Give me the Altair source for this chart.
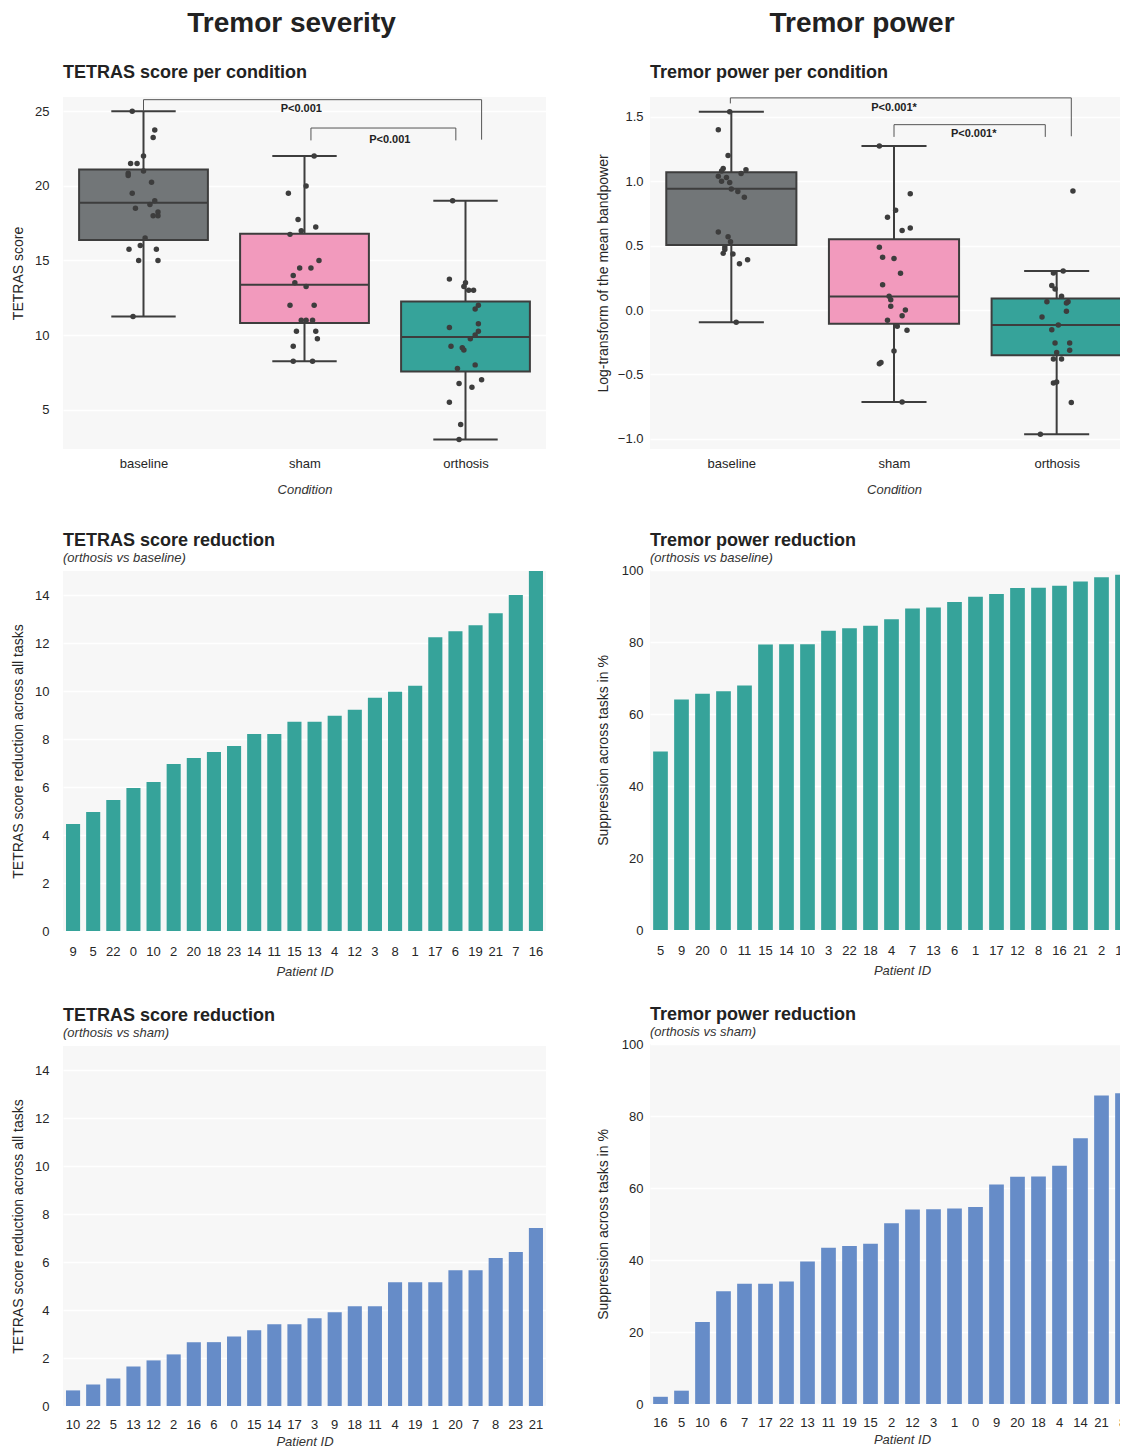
import altair as alt
import pandas as pd

FONT = "Liberation Sans"
INK = "#262626"
LINE = "#3d3d3d"
PANEL_BG = "#F7F7F7"

conditions = ["baseline", "sham", "orthosis"]
box_colors = ["#727678", "#F29ABD", "#36A39A"]

# ---------------- TETRAS score per condition ----------------
tetras_baseline = [25.0, 23.75, 23.25, 22.0, 21.5, 21.5, 21.0, 20.85, 20.7, 20.25, 19.5, 19.0,
                   18.75, 18.5, 18.25, 18.0, 18.0, 16.5, 16.0, 15.75, 15.75, 15.0, 15.0, 11.25]
tetras_baseline_jit = [-0.07, 0.07, 0.06, 0.0, -0.08, -0.04, 0.0, -0.095, -0.095, 0.05, -0.07, 0.07,
                       0.04, -0.05, 0.09, 0.06, 0.09, 0.01, -0.02, -0.09, 0.08, -0.03, 0.09, -0.065]
tetras_sham = [22.0, 20.0, 19.5, 17.75, 17.25, 17.0, 16.75, 15.0, 14.5, 14.5, 14.0, 13.5,
               13.25, 12.0, 12.0, 11.0, 11.0, 11.0, 10.25, 10.25, 9.75, 9.25, 8.25, 8.25]
tetras_sham_jit = [0.06, 0.01, -0.10, -0.04, 0.07, -0.02, -0.09, 0.09, -0.03, 0.04, -0.07, -0.06,
                   0.01, -0.09, 0.06, -0.02, 0.01, 0.05, -0.05, 0.07, 0.08, -0.07, -0.07, 0.05]
tetras_orthosis = [19.0, 13.75, 13.5, 13.25, 13.0, 13.0, 12.0, 11.75, 10.75, 10.5, 10.25, 10.0,
                   9.75, 9.25, 9.15, 9.0, 8.0, 7.75, 7.0, 6.75, 6.5, 5.5, 4.0, 3.0]
tetras_orthosis_jit = [-0.08, -0.10, 0.0, -0.01, 0.05, 0.02, 0.08, 0.06, 0.08, -0.10, 0.08, 0.06,
                       0.03, -0.09, -0.02, -0.01, 0.06, -0.05, 0.10, -0.04, 0.04, -0.10, -0.03, -0.04]
tetras_q1 = [16.37, 10.80, 7.55]
tetras_med = [18.875, 13.375, 9.875]
tetras_q3 = [21.10, 16.79, 12.25]
tetras_lo = [11.25, 8.25, 3.0]
tetras_hi = [25.0, 22.0, 19.0]
# brackets: horizontal bar (x1, x2, y), legs bottoms (left, right)
tetras_br_x1 = [0.0, 1.04]
tetras_br_x2 = [2.10, 1.94]
tetras_br_y = [25.78, 23.88]
tetras_br_left_bottom = [25.0, 23.05]
tetras_br_right_bottom = [23.1, 23.05]
tetras_p_text = ["P<0.001", "P<0.001"]
tetras_p_x = [0.98, 1.53]
tetras_p_y = [25.13, 23.05]

# ---------------- Tremor power per condition ----------------
power_baseline = [1.54, 1.40, 1.20, 1.10, 1.09, 1.08, 1.06, 1.04, 1.03, 1.0, 0.99, 0.94,
                  0.92, 0.876, 0.606, 0.57, 0.53, 0.49, 0.47, 0.44, 0.435, 0.39, 0.36, -0.096]
power_baseline_jit = [-0.01, -0.08, -0.02, -0.05, 0.09, -0.06, 0.06, -0.08, -0.03, -0.06, -0.01, 0.0,
                      0.04, 0.08, -0.08, -0.02, -0.005, -0.04, -0.04, -0.05, 0.01, 0.10, 0.05, 0.03]
power_sham = [1.275, 0.904, 0.775, 0.72, 0.637, 0.617, 0.487, 0.41, 0.40, 0.285, 0.197, 0.106,
              0.08, 0.03, 0.0, -0.044, -0.08, -0.127, -0.158, -0.318, -0.407, -0.417, -0.715]
power_sham_jit = [-0.09, 0.10, 0.01, -0.04, 0.10, 0.05, -0.09, -0.07, 0.0, 0.04, -0.07, -0.03,
                  -0.02, -0.02, 0.07, 0.05, -0.04, 0.02, 0.08, 0.0, -0.08, -0.09, 0.05]
power_orthosis = [0.925, 0.303, 0.288, 0.19, 0.163, 0.106, 0.065, 0.065, 0.055, -0.01, -0.054, -0.117,
                  -0.153, -0.256, -0.256, -0.313, -0.33, -0.38, -0.38, -0.567, -0.56, -0.718, -0.966]
power_orthosis_jit = [0.10, 0.04, -0.02, -0.03, -0.01, 0.03, -0.06, 0.07, 0.06, 0.06, -0.09, 0.01,
                      -0.03, -0.01, 0.08, 0.08, 0.0, -0.02, 0.03, -0.02, 0.0, 0.09, -0.10]
power_q1 = [0.505, -0.106, -0.352]
power_med = [0.943, 0.104, -0.117]
power_q3 = [1.07, 0.549, 0.09]
power_lo = [-0.096, -0.715, -0.966]
power_hi = [1.54, 1.275, 0.303]
power_br_x1 = [-0.006, 1.0]
power_br_x2 = [2.09, 1.93]
power_br_y = [1.648, 1.44]
power_br_left_bottom = [1.605, 1.345]
power_br_right_bottom = [1.35, 1.345]
power_p_text = ["P<0.001*", "P<0.001*"]
power_p_x = [1.0, 1.49]
power_p_y = [1.57, 1.368]

# ---------------- Reduction bar charts ----------------
tetras_vs_baseline_ids = [9, 5, 22, 0, 10, 2, 20, 18, 23, 14, 11, 15, 13, 4, 12, 3, 8, 1, 17, 6, 19, 21, 7, 16]
tetras_vs_baseline_vals = [4.46, 4.96, 5.46, 5.96, 6.21, 6.96, 7.21, 7.46, 7.71, 8.21, 8.21, 8.72,
                           8.72, 8.97, 9.22, 9.72, 9.97, 10.22, 12.24, 12.49, 12.74, 13.24, 14.0, 15.0]
power_vs_baseline_ids = [5, 9, 20, 0, 11, 15, 14, 10, 3, 22, 18, 4, 7, 13, 6, 1, 17, 12, 8, 16, 21, 2, 19, 23]
power_vs_baseline_vals = [49.6, 64.0, 65.6, 66.3, 67.9, 79.3, 79.4, 79.4, 83.1, 83.8, 84.5, 86.3,
                          89.3, 89.6, 91.1, 92.6, 93.3, 95.0, 95.1, 95.6, 96.8, 98.0, 98.7, 99.3]
tetras_vs_sham_ids = [10, 22, 5, 13, 12, 2, 16, 6, 0, 15, 14, 17, 3, 9, 18, 11, 4, 19, 1, 20, 7, 8, 23, 21]
tetras_vs_sham_vals = [0.65, 0.90, 1.15, 1.65, 1.90, 2.15, 2.66, 2.66, 2.90, 3.16, 3.41, 3.41,
                       3.66, 3.91, 4.16, 4.16, 5.16, 5.16, 5.16, 5.66, 5.66, 6.17, 6.42, 7.42]
power_vs_sham_ids = [16, 5, 10, 6, 7, 17, 22, 13, 11, 19, 15, 2, 12, 3, 1, 0, 9, 20, 18, 4, 14, 21, 8, 23]
power_vs_sham_vals = [2.0, 3.7, 22.8, 31.3, 33.4, 33.4, 34.0, 39.6, 43.4, 43.9, 44.5, 50.2,
                      54.0, 54.1, 54.3, 54.7, 61.0, 63.1, 63.2, 66.2, 73.8, 85.7, 86.3, 90.0]

TEAL = "#36A39A"
BLUE = "#668CC8"

LEFT_W = 483
RIGHT_BOX_W = 488
RIGHT_BAR_W = 504
BOX_H = 352
BAR_H = 360


def panel_title(text, subtitle=None, offset=12):
    kw = dict(text=text, anchor="start", frame="group", font=FONT, fontSize=18,
              fontWeight="bold", color="#222222", offset=offset)
    if subtitle:
        kw.update(subtitle=subtitle, subtitleFont=FONT, subtitleFontSize=13,
                  subtitleFontStyle="italic", subtitleColor="#333333", subtitlePadding=2)
    return alt.TitleParams(**kw)


def box_panel(groups, jits, q1, med, q3, lo, hi, brx1, brx2, bry, brlb, brrb,
              ptxt, px, py, ydomain, yticks, yfmt, ytitle, title, width, extent, lpad):
    pts = []
    for i, (vals, jit) in enumerate(zip(groups, jits)):
        for v, j in zip(vals, jit):
            pts.append({"xpos": i + j, "val": v})
    pts = pd.DataFrame(pts)
    stats = pd.DataFrame({"cond": conditions, "idx": [0, 1, 2], "q1": q1, "med": med,
                          "q3": q3, "lo": lo, "hi": hi})
    stats["box_l"] = stats["idx"] - 0.4
    stats["box_r"] = stats["idx"] + 0.4
    stats["cap_l"] = stats["idx"] - 0.2
    stats["cap_r"] = stats["idx"] + 0.2
    br = pd.DataFrame({"x1": brx1, "x2": brx2, "y": bry, "lb": brlb, "rb": brrb})
    ptx = pd.DataFrame({"t": ptxt, "x": px, "y": py})

    xs = alt.Scale(domain=[-0.5, 2.5], nice=False, zero=False)
    ys = alt.Scale(domain=ydomain, nice=False, zero=False)
    xaxis = alt.Axis(values=[0, 1, 2], labelExpr="['baseline','sham','orthosis'][datum.value]",
                     grid=False, title="Condition", titleFontStyle="italic", titleFontSize=13,
                     titleColor="#333333", labelPadding=8, titlePadding=13)
    yaxis = alt.Axis(values=yticks, format=yfmt, title=ytitle, labelPadding=lpad,
                     titlePadding=8, minExtent=extent, maxExtent=extent)

    base = alt.Chart(stats)
    whisk = base.mark_rule(color=LINE, strokeWidth=2).encode(
        x=alt.X("idx:Q", scale=xs, axis=xaxis),
        y=alt.Y("lo:Q", scale=ys, axis=yaxis), y2="hi:Q")
    cap_lo = base.mark_rule(color=LINE, strokeWidth=2).encode(
        x=alt.X("cap_l:Q", scale=xs), x2="cap_r:Q", y=alt.Y("lo:Q", scale=ys))
    cap_hi = base.mark_rule(color=LINE, strokeWidth=2).encode(
        x=alt.X("cap_l:Q", scale=xs), x2="cap_r:Q", y=alt.Y("hi:Q", scale=ys))
    box = base.mark_bar(stroke=LINE, strokeWidth=2).encode(
        x=alt.X("box_l:Q", scale=xs), x2="box_r:Q",
        y=alt.Y("q1:Q", scale=ys), y2="q3:Q",
        color=alt.Color("cond:N", scale=alt.Scale(domain=conditions, range=box_colors), legend=None))
    median = base.mark_rule(color=LINE, strokeWidth=2).encode(
        x=alt.X("box_l:Q", scale=xs), x2="box_r:Q", y=alt.Y("med:Q", scale=ys))
    points = alt.Chart(pts).mark_circle(color=LINE, opacity=1, size=30).encode(
        x=alt.X("xpos:Q", scale=xs), y=alt.Y("val:Q", scale=ys))
    brb = alt.Chart(br)
    br_h = brb.mark_rule(color="#555555", strokeWidth=1).encode(
        x=alt.X("x1:Q", scale=xs), x2="x2:Q", y=alt.Y("y:Q", scale=ys))
    br_l = brb.mark_rule(color="#555555", strokeWidth=1).encode(
        x=alt.X("x1:Q", scale=xs), y=alt.Y("lb:Q", scale=ys), y2="y:Q")
    br_r = brb.mark_rule(color="#555555", strokeWidth=1).encode(
        x=alt.X("x2:Q", scale=xs), y=alt.Y("rb:Q", scale=ys), y2="y:Q")
    txt = alt.Chart(ptx).mark_text(font=FONT, fontSize=11, fontWeight="bold", color="#222222").encode(
        x=alt.X("x:Q", scale=xs), y=alt.Y("y:Q", scale=ys), text="t:N")
    return alt.layer(whisk, cap_lo, cap_hi, box, median, points, br_h, br_l, br_r, txt).properties(
        width=width, height=BOX_H, title=panel_title(title, offset=15))


def bar_panel(ids, vals, color, ydomain, yticks, ytitle, title, subtitle, width, extent, lpad,
              xlabpad, xtitlepad, toffset):
    df = pd.DataFrame({"pid": [str(i) for i in ids], "val": vals})
    return alt.Chart(df).mark_bar(color=color).encode(
        x=alt.X("pid:N", sort=[str(i) for i in ids],
                scale=alt.Scale(paddingInner=0.3, paddingOuter=0.15),
                axis=alt.Axis(labelAngle=0, title="Patient ID", titleFontStyle="italic",
                              titleFontSize=13, titleColor="#333333", grid=False,
                              labelPadding=xlabpad, titlePadding=xtitlepad)),
        y=alt.Y("val:Q", scale=alt.Scale(domain=ydomain, nice=False, zero=True),
                axis=alt.Axis(values=yticks, title=ytitle, labelPadding=lpad, titlePadding=8,
                              minExtent=extent, maxExtent=extent)),
    ).properties(width=width, height=BAR_H, title=panel_title(title, subtitle, offset=toffset))


tl = box_panel([tetras_baseline, tetras_sham, tetras_orthosis],
               [tetras_baseline_jit, tetras_sham_jit, tetras_orthosis_jit],
               tetras_q1, tetras_med, tetras_q3, tetras_lo, tetras_hi,
               tetras_br_x1, tetras_br_x2, tetras_br_y, tetras_br_left_bottom, tetras_br_right_bottom,
               tetras_p_text, tetras_p_x, tetras_p_y,
               [2.36, 25.96], [5, 10, 15, 20, 25], "d", "TETRAS score",
               "TETRAS score per condition", LEFT_W, 30, 14)
tr = box_panel([power_baseline, power_sham, power_orthosis],
               [power_baseline_jit, power_sham_jit, power_orthosis_jit],
               power_q1, power_med, power_q3, power_lo, power_hi,
               power_br_x1, power_br_x2, power_br_y, power_br_left_bottom, power_br_right_bottom,
               power_p_text, power_p_x, power_p_y,
               [-1.08, 1.655], [-1.0, -0.5, 0.0, 0.5, 1.0, 1.5], ".1f",
               "Log-transform of the mean bandpower",
               "Tremor power per condition", RIGHT_BOX_W, 32, 7)

ml = bar_panel(tetras_vs_baseline_ids, tetras_vs_baseline_vals, TEAL, [0, 15],
               [0, 2, 4, 6, 8, 10, 12, 14], "TETRAS score reduction across all tasks",
               "TETRAS score reduction", "(orthosis vs baseline)", LEFT_W, 30, 14, 14, 7, 6)
mr = bar_panel(power_vs_baseline_ids, power_vs_baseline_vals, TEAL, [0, 100],
               [0, 20, 40, 60, 80, 100], "Suppression across tasks in %",
               "Tremor power reduction", "(orthosis vs baseline)", RIGHT_BAR_W, 32, 7, 14, 7, -1)
bl = bar_panel(tetras_vs_sham_ids, tetras_vs_sham_vals, BLUE, [0, 15],
               [0, 2, 4, 6, 8, 10, 12, 14], "TETRAS score reduction across all tasks",
               "TETRAS score reduction", "(orthosis vs sham)", LEFT_W, 30, 14, 12, 4, 6)
br = bar_panel(power_vs_sham_ids, power_vs_sham_vals, BLUE, [0, 100],
               [0, 20, 40, 60, 80, 100], "Suppression across tasks in %",
               "Tremor power reduction", "(orthosis vs sham)", RIGHT_BAR_W, 32, 7, 12, 4, -1)

col_title = dict(anchor="middle", font=FONT, fontSize=28, fontWeight="bold", color="#222222", offset=26)
left_col = alt.vconcat(tl, alt.vconcat(ml, bl, spacing=29), spacing=36).properties(
    title=alt.TitleParams("Tremor severity", dx=13, **col_title))
right_col = alt.vconcat(tr, alt.vconcat(mr, br, spacing=29), spacing=36).properties(
    title=alt.TitleParams("Tremor power", dx=-13, **col_title))

chart = alt.hconcat(left_col, right_col, spacing=50).properties(
    background="white",
    padding={"left": 3, "top": 2, "right": -34, "bottom": 0},
).configure_view(
    stroke=None, fill=PANEL_BG
).configure_axis(
    labelFont=FONT, titleFont=FONT, labelFontSize=13, titleFontSize=14,
    labelColor=INK, titleColor=INK, domain=False, ticks=False,
    gridColor="white", gridWidth=1.3, titleFontWeight="normal"
).configure_axisX(grid=False)

chart.save("out.html", embed_options={"renderer": "svg", "actions": False})
